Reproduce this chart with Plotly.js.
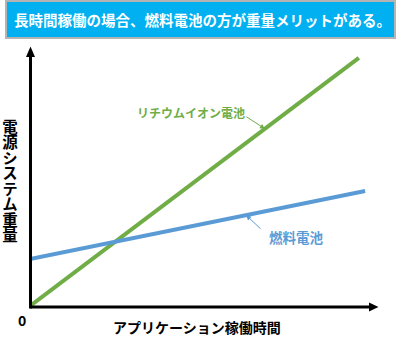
<!DOCTYPE html>
<html>
<head>
<meta charset="utf-8">
<script src="https://cdn.plot.ly/plotly-3.0.1.min.js"></script>
<style>html,body{margin:0;padding:0;background:#fff;}#chart{width:398px;height:337px;}</style>
</head>
<body>
<div id="chart"></div>
<script>
// Data (conceptual chart: system weight vs. operating time)
const liionTime = [0, 9.45];
const liionWeight = [0, 9.58];
const fuelTime = [0, 9.63];
const fuelWeight = [1.81, 4.44];

const chartTitle = '長時間稼働の場合、燃料電池の方が重量メリットがある。';
const yTitle = '電源システム重量';
const xTitle = 'アプリケーション稼働時間';
const liionName = 'リチウムイオン電池';
const fuelName = '燃料電池';
const originLabel = '0';

const W = 398, H = 337;
const M = {l: 30, r: 20, t: 47, b: 31};
const PW = W - M.l - M.r, PH = H - M.t - M.b;
const px = x => (x - M.l) / PW;
const py = y => (H - M.b - y) / PH;

const FONT = '"Noto Sans CJK JP", "Noto Sans", sans-serif';
const GREEN = '#70ad47', BLUE = '#5b9bd5';

function lineY(xs, ys, x) {
  return ys[0] + (ys[1] - ys[0]) * (x - xs[0]) / (xs[1] - xs[0]);
}

const traces = [
  {x: liionTime, y: liionWeight, mode: 'lines', line: {color: GREEN, width: 4}, cliponaxis: false, hoverinfo: 'skip'},
  {x: fuelTime, y: fuelWeight, mode: 'lines', line: {color: BLUE, width: 4}, cliponaxis: false, hoverinfo: 'skip'}
];

const greenHeadX = 6.75, blueHeadX = 6.21;
const Y_TITLE_CX = 10, Y_TITLE_CY = 181;

const annotations = [
  {xref: 'paper', yref: 'paper', x: px(202), y: py(20), text: chartTitle, showarrow: false,
   font: {family: FONT, size: 14.5, color: '#ffffff', weight: 'bold'}, xanchor: 'center', yanchor: 'middle'},
  {xref: 'paper', yref: 'paper', x: px(21.5), y: py(320), text: originLabel, showarrow: false,
   font: {family: FONT, size: 14, color: '#000', weight: 'bold'}, xanchor: 'center', yanchor: 'middle'},
  {xref: 'paper', yref: 'paper', x: px(197), y: py(327), text: xTitle, showarrow: false,
   font: {family: FONT, size: 14, color: '#000', weight: 'bold'}, xanchor: 'center', yanchor: 'middle'},
  {xref: 'paper', yref: 'paper', x: px(191), y: py(112), text: liionName, showarrow: false,
   font: {family: FONT, size: 12, color: GREEN, weight: 'bold'}, xanchor: 'center', yanchor: 'middle'},
  {xref: 'x', yref: 'y', x: greenHeadX, y: lineY(liionTime, liionWeight, greenHeadX), text: '', showarrow: true,
   ax: -20, ay: -13, arrowhead: 2, arrowsize: 1, arrowwidth: 1, arrowcolor: GREEN},
  {xref: 'paper', yref: 'paper', x: px(296), y: py(237), text: fuelName, showarrow: false,
   font: {family: FONT, size: 13.5, color: BLUE, weight: 'bold'}, xanchor: 'center', yanchor: 'middle'},
  {xref: 'x', yref: 'y', x: blueHeadX, y: lineY(fuelTime, fuelWeight, blueHeadX), text: '', showarrow: true,
   ax: 16, ay: 15, arrowhead: 2, arrowsize: 1, arrowwidth: 1, arrowcolor: BLUE},
  {xref: 'paper', yref: 'paper', x: px(Y_TITLE_CX), y: py(Y_TITLE_CY), text: yTitle, showarrow: false,
   font: {family: FONT, size: 15.5, color: '#000', weight: 'bold'}, xanchor: 'center', yanchor: 'middle'}
];

const shapes = [
  {type: 'rect', xref: 'paper', yref: 'paper', x0: px(6), x1: px(395), y0: py(38), y1: py(1),
   fillcolor: '#00b0f0', line: {color: '#b4b4b4', width: 2}, layer: 'below'},
  {type: 'line', xref: 'paper', yref: 'paper', x0: px(30.5), y0: py(307), x1: px(370), y1: py(307),
   line: {color: '#000', width: 3}},
  {type: 'path', xref: 'paper', yref: 'paper',
   path: `M ${px(369)} ${py(302.5)} L ${px(378.5)} ${py(307)} L ${px(369)} ${py(311.5)} Z`,
   fillcolor: '#000', line: {color: '#000', width: 0}},
  {type: 'line', xref: 'paper', yref: 'paper', x0: px(30.5), y0: py(308.5), x1: px(30.5), y1: py(56),
   line: {color: '#000', width: 3}},
  {type: 'path', xref: 'paper', yref: 'paper',
   path: `M ${px(26)} ${py(57)} L ${px(30.5)} ${py(46.5)} L ${px(35)} ${py(57)} Z`,
   fillcolor: '#000', line: {color: '#000', width: 0}}
];

const layout = {
  width: W, height: H,
  margin: M,
  paper_bgcolor: '#ffffff', plot_bgcolor: '#ffffff',
  showlegend: false,
  xaxis: {range: [0, 10], visible: false, fixedrange: true},
  yaxis: {range: [0, 10], visible: false, fixedrange: true},
  annotations: annotations,
  shapes: shapes
};

Plotly.newPlot('chart', traces, layout, {staticPlot: true, displayModeBar: false}).then(gd => {
  // Render the y title upright in vertical writing mode, as in the reference.
  const texts = gd.querySelectorAll('text.annotation-text');
  texts.forEach(t => {
    if (t.textContent === yTitle) {
      t.style.writingMode = 'vertical-rl';
      t.style.textOrientation = 'upright';
      const root = gd.getBoundingClientRect();
      const r = t.getBoundingClientRect();
      const cx = r.left + r.width / 2 - root.left;
      const cy = r.top + r.height / 2 - root.top;
      const x0 = parseFloat(t.getAttribute('x')) || 0;
      const y0 = parseFloat(t.getAttribute('y')) || 0;
      t.setAttribute('x', x0 + (Y_TITLE_CX - cx));
      t.setAttribute('y', y0 + (Y_TITLE_CY - cy));
    }
  });
});
</script>
</body>
</html>
